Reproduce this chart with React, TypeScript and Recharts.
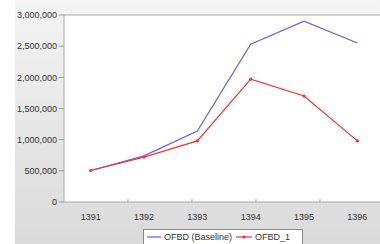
import React from 'react';
import { LineChart, Line, XAxis, YAxis, CartesianGrid, Legend, ReferenceLine } from 'recharts';

const years = ['1391', '1392', '1393', '1394', '1395', '1396'];
const baseline = [505000, 740000, 1140000, 2530000, 2900000, 2550000];
const ofbd1 = [505000, 720000, 980000, 1970000, 1700000, 980000];
const yTicks = [0, 500000, 1000000, 1500000, 2000000, 2500000, 3000000];
const bandTicks = [1, 2, 3, 4, 5];

const data = years.map((y, i) => ({ year: y, base: baseline[i], ofbd1: ofbd1[i] }));

const FONT = '"Liberation Sans", Arial, sans-serif';

const LegendBox = () => (
  <div
    style={{
      boxSizing: 'border-box',
      width: 160,
      height: 16,
      border: '1px solid #8a8a8a',
      background: '#fff',
      display: 'flex',
      alignItems: 'center',
      fontFamily: FONT,
      fontSize: 9,
      color: '#333',
      paddingLeft: 3,
      whiteSpace: 'nowrap',
    }}
  >
    <svg width={14} height={8} style={{ marginRight: 3 }}>
      <line x1={0} y1={4} x2={14} y2={4} stroke="#6161ec" strokeWidth={1.2} />
    </svg>
    <span>OFBD (Baseline)</span>
    <svg width={16} height={8} style={{ marginLeft: 4, marginRight: 3 }}>
      <line x1={0} y1={4} x2={16} y2={4} stroke="#ee3434" strokeWidth={1.2} />
      <circle cx={8} cy={4} r={1.6} fill="#ee3434" />
    </svg>
    <span>OFBD_1</span>
  </div>
);

export default function App() {
  return (
    <div
      style={{
        position: 'fixed',
        left: 0,
        top: 0,
        width: 380,
        height: 244,
        overflow: 'hidden',
        background: '#fff',
      }}
    >
      <div
        style={{
          position: 'absolute',
          left: 15,
          top: 0,
          right: 0,
          bottom: 0,
          background: 'linear-gradient(#f3f3f3, #dadada)',
        }}
      />
      <div style={{ position: 'absolute', left: 0, top: 0, width: 392, height: 244 }}>
        <LineChart
          width={392}
          height={244}
          data={data}
          margin={{ top: 15, right: 8, left: 0, bottom: 0 }}
        >
          <CartesianGrid horizontal={false} vertical={false} fill="#ffffff" />
          <XAxis
            dataKey="year"
            scale="band"
            tickLine={false}
            height={27}
            axisLine={{ stroke: '#a8a8a8' }}
            tick={{ fontSize: 9, fill: '#333', fontFamily: FONT }}
            tickMargin={6}
          />
          <XAxis
            xAxisId="bands"
            type="number"
            domain={[0, 6]}
            ticks={bandTicks}
            mirror
            axisLine={false}
            tickSize={3}
            tickLine={{ stroke: '#999' }}
            tickFormatter={() => ''}
          />
          <YAxis
            width={64}
            domain={[0, 3000000]}
            ticks={yTicks}
            interval={0}
            tickFormatter={(v: number) => v.toLocaleString('en-US')}
            tickSize={5}
            tickLine={{ stroke: '#999' }}
            axisLine={{ stroke: '#a8a8a8' }}
            tick={{ fontSize: 9, fill: '#333', fontFamily: FONT }}
          />
          <ReferenceLine y={3000000} stroke="#a8a8a8" />
          <Line
            type="linear"
            dataKey="base"
            stroke="#6161ec"
            strokeWidth={1.2}
            dot={false}
            isAnimationActive={false}
          />
          <Line
            type="linear"
            dataKey="ofbd1"
            stroke="#ee3434"
            strokeWidth={1.2}
            dot={{ r: 1.6, fill: '#ee3434', stroke: 'none' }}
            isAnimationActive={false}
          />
          <Legend
            verticalAlign="bottom"
            height={15}
            content={<LegendBox />}
            wrapperStyle={{ left: 143, width: 160, bottom: 'auto', top: 229 }}
          />
        </LineChart>
      </div>
    </div>
  );
}
